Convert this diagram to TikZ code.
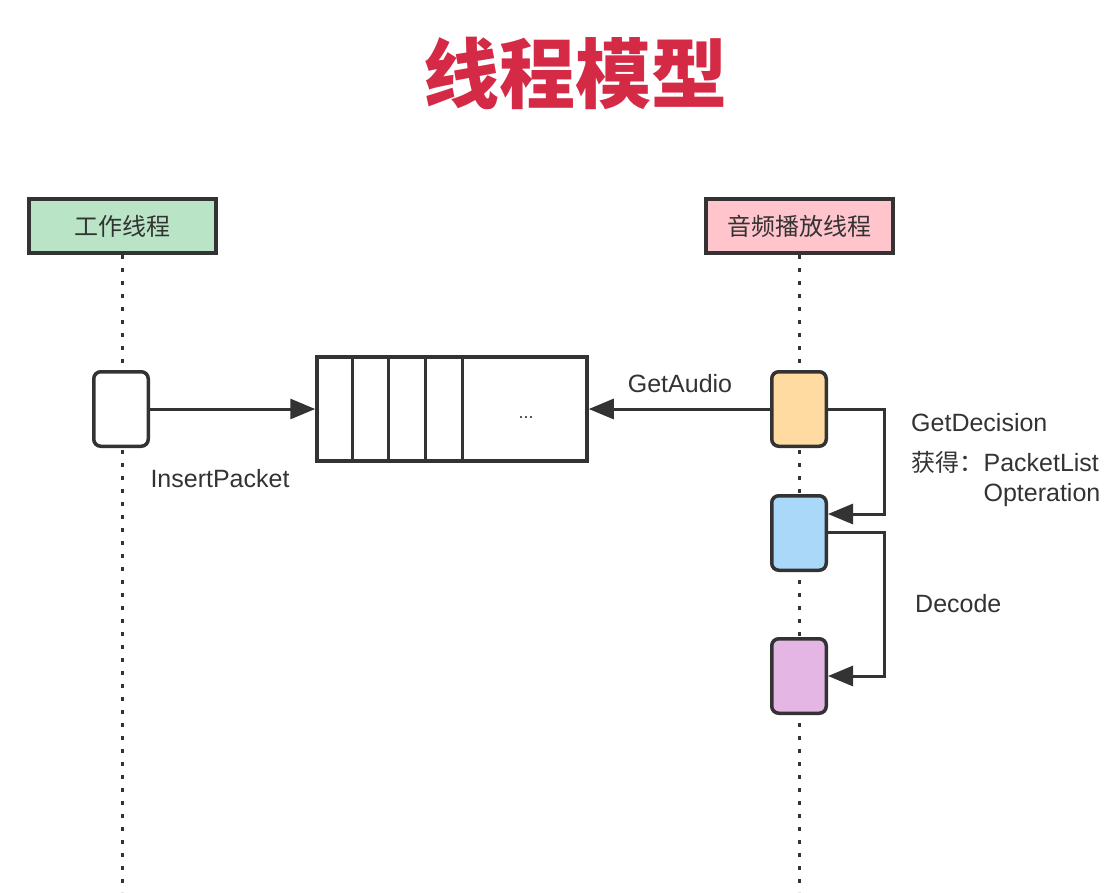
\documentclass[tikz,border=0pt]{standalone}
\usepackage{fontspec}
\setmainfont{Liberation Sans}
\newfontfamily\cjk{Noto Sans CJK SC}
\usepackage{tikz}
\usetikzlibrary{arrows.meta,positioning,calc}

\definecolor{inkgray}{HTML}{333333}
\definecolor{titlered}{HTML}{D42A45}
\definecolor{workgreen}{HTML}{B9E5C6}
\definecolor{playpink}{HTML}{FFC4CC}
\definecolor{audioorange}{HTML}{FFDBA2}
\definecolor{decblue}{HTML}{A9D8F8}
\definecolor{pcmpurple}{HTML}{E3B6E3}

\tikzset{
  header/.style={draw=inkgray, line width=4pt, minimum width=187pt, minimum height=54pt,
    text=inkgray, font=\cjk\fontsize{24}{28}\selectfont},
  act/.style={draw=inkgray, line width=3.5pt, rounded corners=7pt,
    minimum width=54.5pt, minimum height=74.5pt},
  lifeline/.style={draw=inkgray, line width=3pt, dash pattern=on 4pt off 9pt},
  msg/.style={draw=inkgray, line width=3pt, -{Triangle[length=25pt,width=20pt]}},
  lbl/.style={text=inkgray, inner sep=0pt, font=\fontsize{25}{30}\selectfont},
}

\begin{document}
\begin{tikzpicture}[x=1pt,y=-1pt]
\useasboundingbox (0,0) rectangle (1119,892);

% title
\node[text=titlered, font=\cjk\bfseries\fontsize{76}{80}\selectfont] (title) at (575,73) {线程模型};

% thread headers
\node[header, fill=workgreen] (work) at (122,226) {工作线程};
\node[header, fill=playpink] (play) at (799,226) {音频播放线程};
\coordinate (workend) at (122,892);
\coordinate (playend) at (799,892);
\draw[lifeline] (work.south) -- (workend);
\draw[lifeline] (play.south) -- (playend);

% activations
\node[act, fill=white] (ins) at (121,409) {};
\node[act, fill=audioorange] (audio) at (799,409) {};
\node[act, fill=decblue, below=46pt of audio] (dec) {};
\node[act, fill=pcmpurple, below=65pt of dec] (pcm) {};

% packet queue
\node[draw=inkgray, line width=3.5pt, minimum width=270pt, minimum height=104pt] (queue) at (452,409) {};
\foreach \dx in {37,73,110,147}
  \draw[inkgray, line width=3.5pt] ([xshift=\dx pt]queue.north west) -- ([xshift=\dx pt]queue.south west);
\node[text=inkgray, font=\fontsize{18}{20}\selectfont] (dots) at (526,418) {...};

% messages
\draw[msg] (ins.east) -- (queue.west);
\draw[msg] (audio.west) -- (queue.east);
\draw[msg] (audio.east) -- ++(56,0) |- ([yshift=19pt]dec.east);
\draw[msg] ([yshift=1pt]dec.east) -- ++(56,0) |- (pcm.east);

% labels
\node[lbl, anchor=base] (inslbl) at (220,487) {InsertPacket};
\node[lbl, anchor=base] (audiolbl) at (680,392) {GetAudio};
\node[lbl, anchor=base west] (decision) at (911,431) {GetDecision};
\node[lbl, anchor=base west, font=\cjk\fontsize{24}{28}\selectfont] (gain) at (911,471) {获得：};
\node[lbl, anchor=base west] (plist) at (gain.base east) {PacketList};
\node[lbl, anchor=base west] (oper) at ($(plist.base west)+(0,30)$) {Opteration};
\node[lbl, anchor=base west] (decode) at (915,612) {Decode};
\end{tikzpicture}
\end{document}
